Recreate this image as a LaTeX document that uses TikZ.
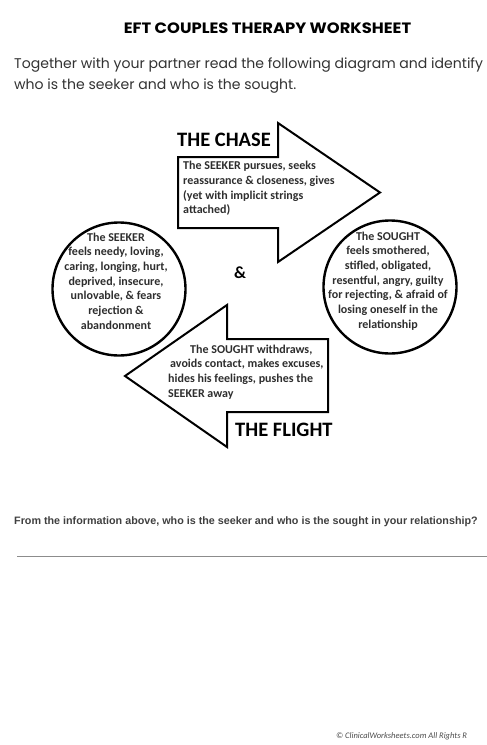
\documentclass[tikz,border=0pt]{standalone}
\usepackage{graphicx}
\usepackage{fontspec}
\setmainfont{Carlito}
\newfontfamily\popfont{Poppins}
\newfontfamily\arialfont{Liberation Sans}
\begin{document}
\begin{tikzpicture}[x=1pt,y=-1pt,
  blockarrow/.style={draw=black,line width=2pt,line join=miter,fill=white},
  feelcircle/.style={draw=black,line width=2.4pt},
  bodytext/.style={font=\fontsize{12}{14.7}\selectfont\bfseries,text=black!82,inner sep=0pt},
  headtext/.style={font=\fontsize{20.5}{22}\selectfont\bfseries,inner sep=0pt},
]
\useasboundingbox (0,0) rectangle (487,745);
\fill[white] (0,0) rectangle (487,745);

% title and intro
\node[font=\popfont\fontsize{15}{17}\selectfont\bfseries,inner sep=0pt] (title) at (267.5,28) {\scalebox{1.09}[1]{EFT COUPLES THERAPY WORKSHEET}};
\node[font=\popfont\fontsize{14.05}{20.5}\selectfont,text=black!80,align=left,inner sep=0pt,anchor=north west] (intro) at (14,58)
  {Together with your partner read the following diagram and identify\\who is the seeker and who is the sought.};

% the chase arrow
\draw[blockarrow] (178,157) -- (278,157) -- (278,123) -- (380,192.5) -- (278,262) -- (278,228) -- (178,228) -- cycle;
\node[headtext,anchor=west] (chase) at (177,140) {THE CHASE};
\node[bodytext,align=left,anchor=west] (chasetext) at (183,188.5)
  {The SEEKER pursues, seeks\\reassurance \& closeness, gives\\(yet with implicit strings\\attached)};

% the flight arrow
\draw[blockarrow] (328,339) -- (227,339) -- (227,305) -- (125,376) -- (227,447) -- (227,412) -- (328,412) -- cycle;
\node[headtext,anchor=west] (flight) at (235,430) {THE FLIGHT};
\node[bodytext,align=left,anchor=west] (flighttext) at (168,372)
  {\hspace*{22pt}The SOUGHT withdraws,\\\hspace*{2pt}avoids contact, makes excuses,\\hides his feelings, pushes the\\SEEKER away};

% circles
\draw[feelcircle] (119,289) circle[radius=66.5];
\node[bodytext,align=center] (seeker) at (116,281)
  {The SEEKER\\feels needy, loving,\\caring, longing, hurt,\\deprived, insecure,\\unlovable, \& fears\\rejection \&\\abandonment};
\draw[feelcircle] (390,287) circle[radius=66.5];
\node[bodytext,align=center] (sought) at (388,281)
  {The SOUGHT\\feels smothered,\\stifled, obligated,\\resentful, angry, guilty\\for rejecting, \& afraid of\\losing oneself in the\\relationship};

\node[font=\fontsize{17}{20}\selectfont\bfseries,inner sep=0pt] (amp) at (240,273) {\&};

% question
\node[font=\arialfont\fontsize{10.75}{13}\selectfont\bfseries,text=black!75,inner sep=0pt,anchor=west] (question) at (14,522)
  {From the information above, who is the seeker and who is the sought in your relationship?};
\coordinate (lineA) at (17,556);
\coordinate (lineB) at (487,556);
\draw[black!45,line width=1pt] (lineA) -- (lineB);

% footer
\node[font=\itshape\fontsize{8.5}{10}\selectfont,text=black!70,inner sep=0pt,anchor=west] (copy) at (336,736)
  {\copyright\ ClinicalWorksheets.com All Rights R};
\end{tikzpicture}
\end{document}
